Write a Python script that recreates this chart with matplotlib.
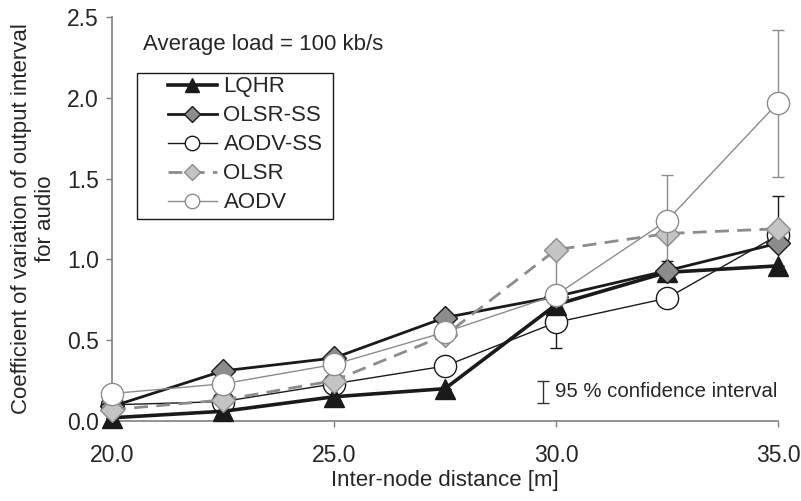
import matplotlib.pyplot as plt
import matplotlib.patches as mpatches
import numpy as np

plt.rcParams['font.family'] = ['Liberation Sans', 'DejaVu Sans']

# data
distance = [20.0, 22.5, 25.0, 27.5, 30.0, 32.5, 35.0]

lqhr = [0.02, 0.06, 0.15, 0.20, 0.72, 0.92, 0.96]
lqhr_err_dn = [0, 0, 0, 0, 0, 0, 0]
lqhr_err_up = [0, 0, 0, 0, 0, 0.07, 0]

olsr_ss = [0.09, 0.31, 0.39, 0.64, 0.77, 0.93, 1.10]
olsr_ss_err_dn = [0, 0, 0, 0, 0, 0, 0]
olsr_ss_err_up = [0, 0, 0, 0, 0, 0, 0.29]

aodv_ss = [0.10, 0.12, 0.23, 0.34, 0.61, 0.76, 1.15]
aodv_ss_err_dn = [0, 0, 0, 0, 0.16, 0, 0]
aodv_ss_err_up = [0, 0, 0, 0, 0.16, 0, 0]

olsr = [0.07, 0.13, 0.25, 0.53, 1.06, 1.16, 1.19]
olsr_err_dn = [0, 0, 0, 0, 0.26, 0, 0]
olsr_err_up = [0, 0, 0, 0, 0, 0, 0]

aodv = [0.17, 0.23, 0.35, 0.55, 0.78, 1.24, 1.97]
aodv_err_dn = [0, 0, 0, 0, 0, 0.28, 0.46]
aodv_err_up = [0, 0, 0, 0, 0, 0.28, 0.45]

fig = plt.figure(figsize=(8.01, 5.01), dpi=100)
ax = fig.add_axes([0.1398, 0.1597, 0.8315, 0.8063])

txt = '#262626'
dark = '#1a1a1a'
grey = '#8c8c8c'

# (label, values, err down, err up, line color, lw, ls, marker, ms, face, edge, z)
series = [
    ('AODV-SS', aodv_ss, aodv_ss_err_dn, aodv_ss_err_up, dark, 1.0, '-', 'o', 16, 'white', dark, 3),
    ('LQHR', lqhr, lqhr_err_dn, lqhr_err_up, dark, 2.6, '-', '^', 15, dark, dark, 4),
    ('OLSR-SS', olsr_ss, olsr_ss_err_dn, olsr_ss_err_up, dark, 2.0, '-', 'D', 12, '#8c8c8c', dark, 5),
    ('OLSR', olsr, olsr_err_dn, olsr_err_up, grey, 2.0, (0, (5, 3)), 'D', 12, '#c4c4c4', grey, 6),
    ('AODV', aodv, aodv_err_dn, aodv_err_up, grey, 1.0, '-', 'o', 16, 'white', grey, 7),
]

handles = {}
for label, vals, edn, eup, col, lw, ls, mk, ms, fc, ec, z in series:
    yerr = np.array([edn, eup])
    ax.errorbar(distance, vals, yerr=yerr, fmt='none', ecolor=ec, elinewidth=1.0,
                capsize=4, capthick=1.0, zorder=z, clip_on=False)
    h, = ax.plot(distance, vals, color=col, linewidth=lw, linestyle=ls, marker=mk,
                 markersize=ms, markerfacecolor=fc, markeredgecolor=ec,
                 markeredgewidth=1.0, zorder=z + 0.5, clip_on=False)
    handles[label] = h

# legend box drawn by hand, entries without frame inside it
box = mpatches.Rectangle((0.0375, 0.50), 0.2945, 0.361, transform=ax.transAxes,
                         facecolor='white', edgecolor=dark, linewidth=1.0, zorder=10)
ax.add_patch(box)
order = ['LQHR', 'OLSR-SS', 'AODV-SS', 'OLSR', 'AODV']
leg = ax.legend([handles[k] for k in order], order, loc='upper left',
                bbox_to_anchor=(0.084, 0.853), fontsize=16, frameon=False,
                handlelength=2.2, labelspacing=0.36, handletextpad=0.3,
                borderpad=0, borderaxespad=0, markerscale=0.65)
leg.set_zorder(11)
for t in leg.get_texts():
    t.set_color(txt)

ax.text(0.046, 0.932, 'Average load = 100 kb/s', transform=ax.transAxes,
        fontsize=16, color=txt, va='center', ha='left')

# 95 % confidence interval key
ax.errorbar([29.7], [0.18], yerr=[0.07], fmt='none', ecolor='#333333',
            elinewidth=1.0, capsize=4, capthick=1.0)
ax.text(29.98, 0.18, '95 % confidence interval', fontsize=14.7, color=txt,
        va='center', ha='left')

ax.set_xlim(20, 35)
ax.set_ylim(0, 2.5)
ax.set_xticks([20, 25, 30, 35])
ax.set_xticklabels(['20.0', '25.0', '30.0', '35.0'])
ax.set_yticks([0, 0.5, 1.0, 1.5, 2.0, 2.5])
ax.set_yticklabels(['0.0', '0.5', '1.0', '1.5', '2.0', '2.5'])
ax.tick_params(direction='out', length=4.5, width=1, color='#808080',
               labelsize=16.5, labelcolor=txt)
ax.tick_params(axis='x', pad=12)
ax.tick_params(axis='y', pad=5)
ax.set_xlabel('Inter-node distance [m]', fontsize=16, color=txt, labelpad=2)
ax.set_ylabel('Coefficient of variation of output interval\nfor audio',
              fontsize=16, color=txt, labelpad=8, linespacing=1.2)

for spine in ['top', 'right']:
    ax.spines[spine].set_visible(False)
for spine in ['left', 'bottom']:
    ax.spines[spine].set_color('#808080')
    ax.spines[spine].set_linewidth(1.2)

plt.savefig('out.png', dpi=100)
